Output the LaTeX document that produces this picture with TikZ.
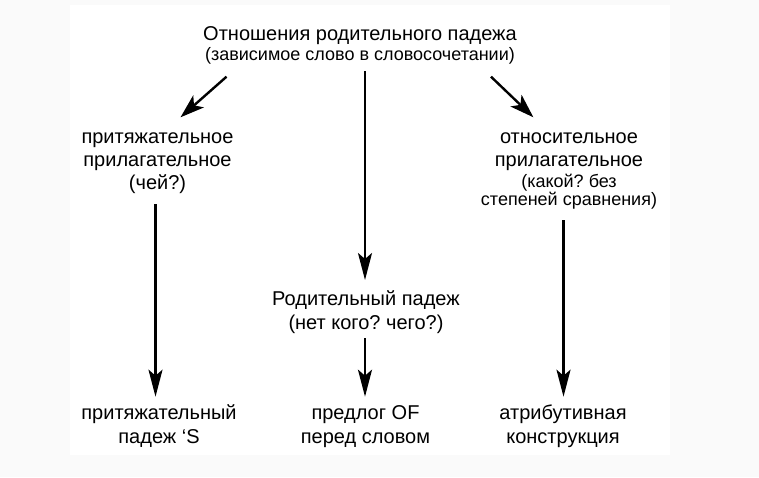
\documentclass[tikz,border=0pt]{standalone}
\usepackage{fontspec}
\setmainfont{Liberation Sans}
\usetikzlibrary{arrows.meta}
\definecolor{outerbg}{HTML}{FAFAFA}
\newcommand{\fa}{\fontsize{20}{23}\selectfont}
\newcommand{\fb}{\fontsize{18}{21}\selectfont}
\frenchspacing
\begin{document}
\begin{tikzpicture}[x=1pt,y=-1pt,
  lbl/.style={inner sep=0pt, outer sep=0pt, anchor=base, font=\fa},
  arr/.style={line width=2.4pt, -{Stealth[length=27pt,width=14pt,inset=6pt]}},
  arrd/.style={line width=2.4pt, -{Stealth[length=24pt,width=16pt,inset=6pt]}},
]
\useasboundingbox (0,0) rectangle (759,477);
\fill[outerbg] (0,0) rectangle (759,477);
\fill[white] (70,5) rectangle (670,455);

\node[lbl] (title) at (360,40) {\begin{tabular}[t]{@{}c@{}}Отношения родительного падежа\\[-3pt] \fb (зависимое слово в словосочетании)\end{tabular}};
\node[lbl] (left) at (157.5,143) {\begin{tabular}[t]{@{}c@{}}притяжательное\\ прилагательное\\ (чей?)\end{tabular}};
\node[lbl] (right) at (569,143) {\begin{tabular}[t]{@{}c@{}}относительное\\ прилагательное\\[-2pt] \fb (какой? без\\[-5pt] \fb степеней сравнения)\end{tabular}};
\node[lbl] (mid) at (366,305) {\begin{tabular}[t]{@{}c@{}}Родительный падеж\\[1pt] (нет кого? чего?)\end{tabular}};
\node[lbl] (lbot) at (159,419) {\begin{tabular}[t]{@{}c@{}}притяжательный\\[1pt] падеж ‘S\end{tabular}};
\node[lbl] (mbot) at (365.5,419) {\begin{tabular}[t]{@{}c@{}}предлог OF\\[1pt] перед словом\end{tabular}};
\node[lbl] (rbot) at (563,419) {\begin{tabular}[t]{@{}c@{}}атрибутивная\\[1pt] конструкция\end{tabular}};

\draw[arrd] ([shift={(-133.5,36.7)}]title.base) -- ([shift={(23,-25.7)}]left.base);
\draw[arrd] ([shift={(131,36.7)}]title.base) -- ([shift={(-35.6,-25.7)}]right.base);
\draw[arr] ([shift={(5,31)}]title.base) -- ([shift={(-1,-25)}]mid.base);
\draw[arr] ([shift={(-1,33)}]mid.base) -- ([shift={(-0.5,-22.3)}]mbot.base);
\draw[arr] ([shift={(-2,61)}]left.base) -- ([shift={(-3.5,-22.3)}]lbot.base);
\draw[arr] ([shift={(-5.5,77)}]right.base) -- ([shift={(0.5,-22.3)}]rbot.base);
\end{tikzpicture}
\end{document}
